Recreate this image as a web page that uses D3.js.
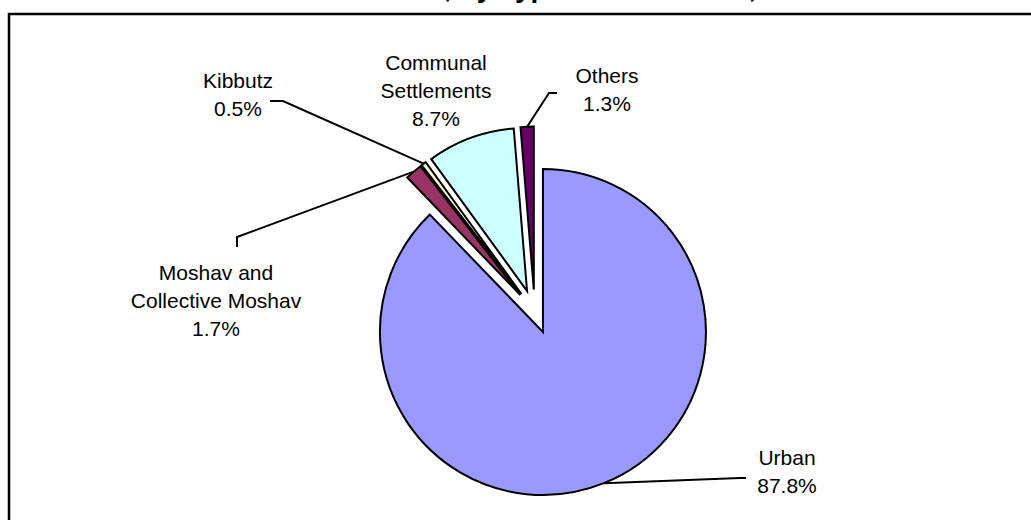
<!DOCTYPE html>
<html>
<head>
<meta charset="utf-8">
<script src="https://cdn.jsdelivr.net/npm/d3@7"></script>
<style>
  html, body { margin: 0; padding: 0; background: #fff; overflow: hidden; }
  text { font-family: "Liberation Sans", Arial, sans-serif; }
</style>
</head>
<body>
<svg id="chart" width="1031" height="520"></svg>
<script>
const categories = ["Urban", "Moshav and Collective Moshav", "Kibbutz", "Communal Settlements", "Others"];
const values = [87.8, 1.7, 0.5, 8.7, 1.3];
const colors = ["#9999FF", "#993366", "#FFFFCC", "#CCFFFF", "#660066"];
const labelLines = [
  ["Urban", "87.8%"],
  ["Moshav and", "Collective Moshav", "1.7%"],
  ["Kibbutz", "0.5%"],
  ["Communal", "Settlements", "8.7%"],
  ["Others", "1.3%"]
];
const titlePrefix = "Jewish Residents";
const titleText = "Jewish Residents, by Type of Settlement, 2008";

// layout
const W = 1031, H = 520;
const cx = 534.7, cy = 311.6, R = 163, explode = 22;
const labelPos = [
  {x: 787, y: 465, leader: [[746, 478], [740, 478]]},
  {x: 216, y: 280, leader: [[237, 247], [237, 237]]},
  {x: 238, y: 88,  leader: [[270, 101], [283, 101]]},
  {x: 436, y: 70,  leader: null},
  {x: 607, y: 83,  leader: [[557, 93], [549, 93]]}
];
const lineH = 28;

const svg = d3.select("#chart");

// frame
svg.append("rect")
  .attr("x", 9).attr("y", 14)
  .attr("width", W + 40).attr("height", H + 40)
  .attr("fill", "none").attr("stroke", "#000").attr("stroke-width", 2.5);

// title (clipped at top like reference): place so first comma sits near x=447
const titleSize = 28;
const tmp = svg.append("text").attr("font-size", titleSize).attr("font-weight", "bold").text(titlePrefix);
const prefixW = tmp.node().getComputedTextLength();
tmp.remove();
svg.append("text")
  .attr("x", 447 - prefixW - 3).attr("y", -3)
  .attr("text-anchor", "start")
  .attr("font-size", titleSize).attr("font-weight", "bold")
  .text(titleText);

const pie = d3.pie().sort(null).value(d => d)(values);
const arc = d3.arc().innerRadius(0).outerRadius(R);

const g = svg.append("g").attr("transform", `translate(${cx},${cy})`);

function dirOf(d) {
  const a = (d.startAngle + d.endAngle) / 2;
  return [Math.sin(a), -Math.cos(a)];
}

g.selectAll("path.slice")
  .data(pie)
  .enter().append("path")
  .attr("class", "slice")
  .attr("transform", d => { const [dx, dy] = dirOf(d); return `translate(${dx * explode},${dy * explode})`; })
  .attr("d", arc)
  .attr("fill", (d, i) => colors[i])
  .attr("stroke", "#000")
  .attr("stroke-width", 2)
  .attr("stroke-linejoin", "miter");

// leader lines
pie.forEach((d, i) => {
  const lp = labelPos[i];
  if (!lp.leader) return;
  const [dx, dy] = dirOf(d);
  const end = [cx + dx * (explode + R), cy + dy * (explode + R)];
  const pts = lp.leader.concat([end]);
  svg.append("path")
    .attr("d", d3.line()(pts))
    .attr("fill", "none").attr("stroke", "#000").attr("stroke-width", 2);
});

// labels
labelLines.forEach((lines, i) => {
  const lp = labelPos[i];
  const t = svg.append("text")
    .attr("text-anchor", "middle")
    .attr("font-size", 21)
    .attr("fill", "#000");
  lines.forEach((ln, j) => {
    t.append("tspan").attr("x", lp.x).attr("y", lp.y + j * lineH).text(ln);
  });
});
</script>
</body>
</html>
